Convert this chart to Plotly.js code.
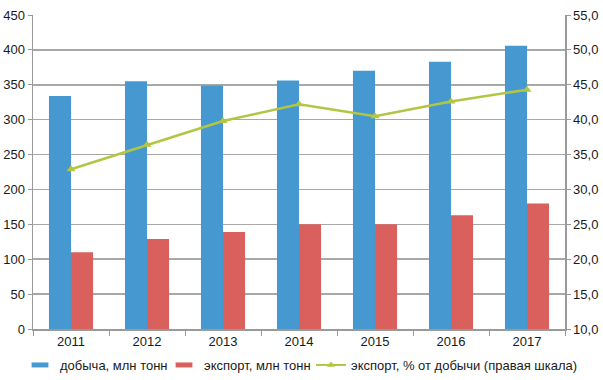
<!DOCTYPE html>
<html><head><meta charset="utf-8">
<script src="https://cdn.plot.ly/plotly-3.0.1.min.js"></script>
<style>html,body{margin:0;padding:0;background:#fff}#c{width:603px;height:380px}</style>
</head><body><div id="c"></div>
<script>
const years = ['2011','2012','2013','2014','2015','2016','2017'];
const production = [334, 355, 349, 356, 370, 383, 406];
const exportMt = [110, 129, 139, 150, 150, 163, 180];
const exportPct = [32.9, 36.4, 39.8, 42.2, 40.5, 42.6, 44.3];
const names = ['добыча, млн тонн', 'экспорт, млн тонн', 'экспорт, % от добычи (правая шкала)'];
const cBlue = '#4599d0', cRed = '#d9605c', cGreen = '#b2c544';
const font = {family: '"Liberation Sans", Arial, sans-serif', size: 13, color: '#1a1a1a'};

const data = [
  {type:'bar', x: years, y: production, marker:{color:cBlue}, showlegend:false, name:names[0]},
  {type:'bar', x: years, y: exportMt, marker:{color:cRed}, showlegend:false, name:names[1]},
  {type:'scatter', mode:'lines+markers', x: years, y: exportPct, yaxis:'y2', showlegend:false,
   line:{color:cGreen, width:2.5}, marker:{symbol:'triangle-up', size:8, color:cGreen}, name:names[2]},
  {type:'scatter', mode:'markers', x:[null], y:[null], name:names[0], legend:'legend',
   marker:{symbol:'line-ew', size:12, line:{color:cBlue, width:5}}},
  {type:'scatter', mode:'markers', x:[null], y:[null], name:names[1], legend:'legend2',
   marker:{symbol:'line-ew', size:12, line:{color:cRed, width:5}}},
  {type:'scatter', mode:'lines+markers', x:[null], y:[null], name:names[2], yaxis:'y2', legend:'legend3',
   line:{color:cGreen, width:2}, marker:{symbol:'triangle-up', size:7, color:cGreen}}
];

function leg(px) {
  return {orientation:'h', xref:'container', yref:'container', x: px/603, xanchor:'left',
          y: 15/380, yanchor:'middle', font:font, itemwidth:30, bgcolor:'rgba(0,0,0,0)', borderwidth:0};
}

const layout = {
  width:603, height:380,
  margin:{l:33, r:38, t:15, b:51, autoexpand:false},
  paper_bgcolor:'#fff', plot_bgcolor:'#fff',
  font: font,
  separators: ', ',
  barmode:'group', bargap:0.42, bargroupgap:0,
  xaxis:{type:'category', showline:true, linecolor:'#9a9a9a', linewidth:1.5,
         ticks:'outside', tickson:'boundaries', ticklen:5, tickcolor:'#9a9a9a',
         showgrid:false, tickfont:font, fixedrange:true},
  yaxis:{range:[0,450], dtick:50, showline:true, linecolor:'#9a9a9a', linewidth:1.5,
         ticks:'outside', ticklen:4, tickcolor:'#9a9a9a', gridcolor:'#a8a8a8', gridwidth:1.5,
         zeroline:false, tickfont:font, ticklabelstandoff:0},
  yaxis2:{range:[10,55], dtick:5, tickformat:'.1f', overlaying:'y', side:'right',
          showline:true, linecolor:'#9a9a9a', linewidth:1.5, ticks:'outside', ticklen:4,
          tickcolor:'#9a9a9a', showgrid:false, zeroline:false, tickfont:font, ticklabelstandoff:0},
  legend: leg(20),
  legend2: leg(164),
  legend3: leg(311),
  showlegend:true
};
Plotly.newPlot('c', data, layout, {staticPlot:true});
</script></body></html>
